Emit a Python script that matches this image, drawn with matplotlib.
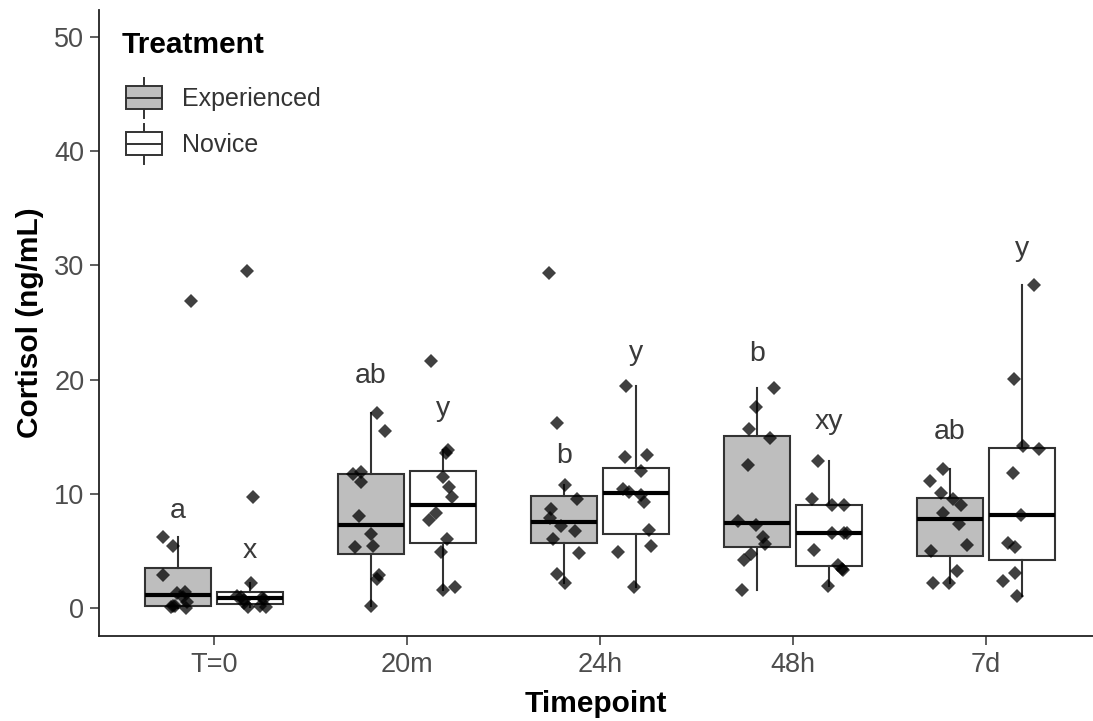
import matplotlib
matplotlib.use("Agg")
import matplotlib.pyplot as plt
from matplotlib.patches import Rectangle, Patch
from matplotlib.lines import Line2D
from matplotlib.legend_handler import HandlerBase

# ---------------- data ----------------
timepoints = ["T=0", "20m", "24h", "48h", "7d"]
treatments = ["Experienced", "Novice"]

exp_t0 = [26.9, 6.2, 5.4, 2.9, 1.4, 1.3, 1.0, 0.5, 0.2, 0.15, 0.1, 0.0]
nov_t0 = [29.5, 9.7, 2.2, 1.09, 1.0, 0.9, 0.8, 0.7, 0.4, 0.2, 0.1, 0.05]
exp_20m = [17.1, 15.5, 11.9, 11.7, 11.0, 8.06, 6.5, 5.4, 5.3, 2.86, 2.5, 0.17]
nov_20m = [21.6, 13.8, 13.6, 11.5, 10.6, 9.75, 8.35, 7.7, 6.0, 4.9, 1.8, 1.6]
exp_24h = [29.3, 16.2, 10.8, 9.5, 8.7, 7.85, 7.2, 6.7, 6.0, 4.8, 3.0, 2.2]
nov_24h = [19.4, 13.4, 13.2, 12.0, 10.4, 10.2, 9.9, 9.3, 6.8, 5.4, 4.9, 1.8]
exp_48h = [19.3, 17.6, 15.7, 14.9, 12.5, 7.65, 7.3, 6.2, 5.6, 4.7, 4.2, 1.6]
nov_48h = [12.9, 9.5, 9.0, 9.0, 6.6, 6.6, 6.6, 5.1, 3.8, 3.4, 3.3, 1.9]
exp_7d = [12.2, 11.1, 10.1, 9.5, 9.0, 8.3, 7.36, 5.5, 5.0, 3.24, 2.16, 2.16]
nov_7d = [28.3, 20.05, 14.2, 13.9, 11.8, 8.14, 5.7, 5.3, 3.1, 2.4, 1.05]

# horizontal jitter of each point (pixels at 193 px per category)
jit_exp_t0 = [13, -15, -5, -15, 7, -1, 5, 9, -5, -3, -7, 8]
jit_nov_t0 = [-3, 3, 1, -13, -9, 12, 14, -6, -6, 10, 16, -2]
jit_exp_20m = [6, 14, -10, -18, -10, -12, 0, 2, -16, 8, 6, 0]
jit_nov_20m = [-12, 5, 3, 0, 6, 9, -7, -14, 4, -2, 12, 0]
jit_exp_24h = [-15, -7, 1, 13, -13, -14, -3, 11, -11, 15, -7, 1]
jit_nov_24h = [-10, 11, -11, 5, -13, -7, 5, 8, 13, 15, -18, -2]
jit_exp_48h = [17, -1, -8, 13, -9, -19, -1, 6, 8, -6, -13, -15]
jit_nov_48h = [-11, -17, 3, 15, 3, 15, 18, -15, 9, 13, 14, -1]
jit_exp_7d = [-7, -20, -9, 3, 11, -7, 9, 17, -19, 7, -17, -1]
jit_nov_7d = [12, -8, 1, 17, -9, -1, -14, -7, -7, -19, -5]

# significance letters (text, y value)
letters_exp = ["a", "ab", "b", "b", "ab"]
letters_exp_y = [7.85, 19.7, 12.67, 21.6, 14.8]
letters_nov = ["x", "y", "y", "xy", "y"]
letters_nov_y = [4.35, 16.85, 21.7, 15.7, 30.8]

exp_groups = [exp_t0, exp_20m, exp_24h, exp_48h, exp_7d]
nov_groups = [nov_t0, nov_20m, nov_24h, nov_48h, nov_7d]
exp_jit = [jit_exp_t0, jit_exp_20m, jit_exp_24h, jit_exp_48h, jit_exp_7d]
nov_jit = [jit_nov_t0, jit_nov_20m, jit_nov_24h, jit_nov_48h, jit_nov_7d]

# ---------------- style ----------------
plt.rcParams['font.family'] = ['Liberation Sans', 'DejaVu Sans']
FILLS = {"Experienced": "#bebebe", "Novice": "#ffffff"}
EDGE = "#333333"
TICK_C = "#4d4d4d"
PX_PER_CAT = 193.0
DODGE = 0.1875
BOX_W = 0.34

fig = plt.figure(figsize=(10.93, 7.21), dpi=100)
ax = fig.add_axes([99 / 1093, 1 - 636 / 721, (1093 - 99) / 1093, (636 - 10) / 721])

cats = list(range(1, len(timepoints) + 1))

for groups, jits, off, name in [(exp_groups, exp_jit, -DODGE, "Experienced"),
                                (nov_groups, nov_jit, DODGE, "Novice")]:
    pos = [c + off for c in cats]
    ax.boxplot(groups, positions=pos, widths=BOX_W, patch_artist=True,
               showfliers=False, showcaps=False, whis=1.5,
               boxprops=dict(facecolor=FILLS[name], edgecolor=EDGE, linewidth=1.5),
               whiskerprops=dict(color=EDGE, linewidth=1.5),
               medianprops=dict(color="black", linewidth=3.0),
               zorder=2)
    for p, vals, jit in zip(pos, groups, jits):
        xs = [p + j / PX_PER_CAT for j in jit]
        ax.plot(xs, vals, linestyle="none", marker="D", markersize=7.2,
                color="black", alpha=0.75, markeredgewidth=0, zorder=3)

for c, t, y in zip(cats, letters_exp, letters_exp_y):
    ax.text(c - DODGE, y, t, ha="center", va="baseline", fontsize=20.5, color="#3a3a3a")
for c, t, y in zip(cats, letters_nov, letters_nov_y):
    ax.text(c + DODGE, y, t, ha="center", va="baseline", fontsize=20.5, color="#3a3a3a")

ax.set_xlim(1 - 115 / PX_PER_CAT, 5 + (1093 - 986) / PX_PER_CAT)
ax.set_ylim(-2.452, 52.36)
ax.set_xticks(cats)
ax.set_xticklabels(timepoints)
ax.set_yticks([0, 10, 20, 30, 40, 50])

for s in ["top", "right"]:
    ax.spines[s].set_visible(False)
for s in ["left", "bottom"]:
    ax.spines[s].set_linewidth(1.3)
    ax.spines[s].set_color("#222222")

ax.tick_params(axis="both", length=6.5, width=1.1, color="#333333",
               labelsize=19.5, labelcolor=TICK_C)
ax.tick_params(axis="y", pad=4)
ax.tick_params(axis="x", pad=5)

ax.set_xlabel("Timepoint", fontsize=21.5, fontweight="bold", labelpad=9)
ax.set_ylabel("Cortisol (ng/mL)", fontsize=21.5, fontweight="bold", labelpad=7)

LEG_FS = 18.0
SHIFT_PT = 4 * 72 / 100  # handle glyph sits 4 px right of the title edge


class BoxHandler(HandlerBase):
    def create_artists(self, legend, orig_handle, xdescent, ydescent, width,
                       height, fontsize, trans):
        fc = orig_handle.get_facecolor()
        x0 = -xdescent + SHIFT_PT
        w = width - SHIFT_PT
        y0 = -ydescent
        cx = x0 + w / 2
        wl = Line2D([cx, cx], [y0, y0 + height], color=EDGE, lw=1.4)
        rect = Rectangle((x0, y0 + height * 0.21), w, height * 0.58,
                         facecolor=fc, edgecolor=EDGE, lw=1.4)
        med = Line2D([x0, x0 + w], [y0 + height / 2] * 2, color=EDGE, lw=1.4)
        for a in (wl, rect, med):
            a.set_transform(trans)
        return [wl, rect, med]


handles = [Patch(facecolor=FILLS[t], edgecolor=EDGE) for t in treatments]
leg = ax.legend(handles, treatments, title="Treatment",
                handler_map={Patch: BoxHandler()},
                loc="upper left", bbox_to_anchor=(122 / 1093, 1 - 31 / 721),
                bbox_transform=fig.transFigure, frameon=False,
                fontsize=LEG_FS, title_fontproperties={"size": 21.5, "weight": "bold"},
                handlelength=1.6, handleheight=2.085, handletextpad=0.82,
                labelspacing=0.24, borderpad=0, borderaxespad=0, alignment="left")
leg._legend_box.sep = 13.5
for t in leg.get_texts():
    t.set_color("#333333")

fig.savefig("out.png", dpi=100)
